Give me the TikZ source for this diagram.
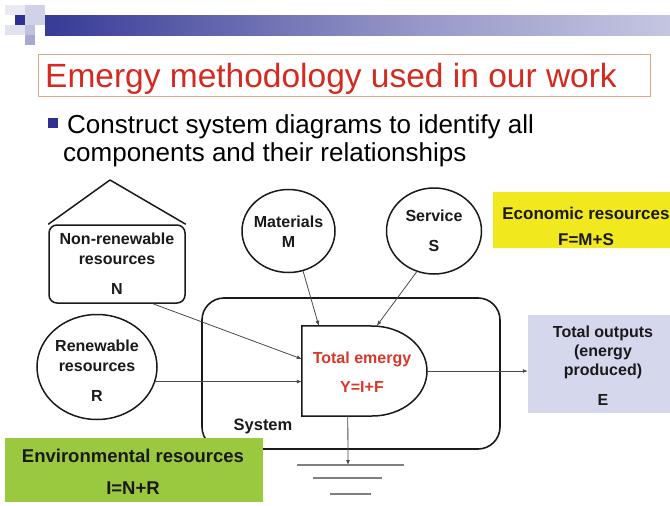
\documentclass[tikz,border=0pt]{standalone}
\usepackage{fontspec}
\setmainfont{Liberation Sans}
\usetikzlibrary{arrows.meta,shapes.geometric,calc}

\definecolor{hdrblue}{HTML}{2E3192}
\definecolor{titlered}{HTML}{D42A20}
\definecolor{titleframe}{HTML}{E0A88A}
\definecolor{flowgray}{HTML}{4A4A4A}
\definecolor{econyellow}{HTML}{F2E81E}
\definecolor{envgreen}{HTML}{9AC83E}
\definecolor{outlavender}{HTML}{D5D7EC}
\definecolor{emred}{HTML}{D9372A}
\definecolor{inkblack}{HTML}{1A1A1A}

\pgfdeclarehorizontalshading{hdrbar}{100bp}{color(0bp)=(hdrblue); color(22bp)=(hdrblue); color(55bp)=(hdrblue!50); color(100bp)=(white)}

\begin{document}
\begin{tikzpicture}[x=1pt,y=-1pt,
  outline/.style={draw=inkblack, line width=1.5pt},
  lbl/.style={font=\bfseries\fontsize{16}{20}\selectfont, text=inkblack, align=center, inner sep=0pt},
  flow/.style={draw=flowgray, line width=0.8pt, -{Latex[length=5pt,width=4pt]}},
  groundline/.style={draw=gray, line width=1.1pt},
  panel/.style={draw=none, inner sep=0pt, align=center, text=inkblack}]
\useasboundingbox (0,0) rectangle (670,506);
\fill[white] (0,0) rectangle (670,506);

% header squares and bar
\fill[hdrblue!10] (5,5) rectangle (25,15);
\fill[hdrblue!22] (25,5) rectangle (45,25);
\fill[hdrblue!14] (5,25) rectangle (25,35);
\fill[hdrblue!30] (25,25) rectangle (35,35);
\fill[hdrblue!42] (25,35) rectangle (35,45);
\fill[hdrblue] (15,15) rectangle (25,25);
\shade[shading=hdrbar] (45,15) rectangle (670,35);

% title
\draw[titleframe, line width=1pt] (38,54) rectangle (650,96);
\node[anchor=base west, inner sep=0pt, text=titlered, font=\fontsize{33.5}{40}\selectfont] (title) at (45,87) {Emergy methodology used in our work};

% bullet
\fill[hdrblue] (48,118) rectangle (58,128);
\node[anchor=base west, inner sep=0pt, font=\fontsize{26}{31}\selectfont] (line1) at (67,133) {Construct system diagrams to identify all};
\node[anchor=base west, inner sep=0pt, font=\fontsize{26}{31}\selectfont] (line2) at (63,161) {components and their relationships};

% system boundary
\node[outline, line width=1.6pt, rounded corners=22pt, minimum width=298pt, minimum height=151pt, inner sep=0pt] (sys) at (351,373.5) {};
\node[lbl, font=\bfseries\fontsize{16.5}{20}\selectfont] (syslbl) at (263,426) {System};

% non-renewable source (house shape)
\node[outline, rounded corners=8pt, minimum width=136pt, minimum height=78pt, lbl] (nr) at (117,264) {Non-renewable\\resources\\[10pt]N};
\draw[outline, line join=round] (nr.north west) -- (110,180) -- (nr.north east);

% renewable source
\node[outline, ellipse, minimum width=120pt, minimum height=105pt, inner sep=0pt] (rn) at (97,367) {};
\node[lbl] (rntext) at (97,371) {Renewable\\resources\\[10pt]R};

% purchased inputs
\node[outline, ellipse, minimum width=93pt, minimum height=83pt, inner sep=0pt] (mat) at (288.5,231) {};
\node[lbl] (mattext) at (288.5,232) {Materials\\M};
\node[outline, ellipse, minimum width=95pt, minimum height=86pt, inner sep=0pt] (svc) at (434,231) {};
\node[lbl] (svctext) at (434,231) {Service\\[10pt]S};

% total emergy block
\node[minimum width=125pt, minimum height=90pt, inner sep=0pt] (te) at (364.5,371) {};
\draw[outline, fill=white] (te.north west) -- (372,326)
  arc[start angle=-90, end angle=90, x radius=55, y radius=45]
  -- (te.south west) -- cycle;
\node[lbl, text=emred] (tetext) at (362,372) {Total emergy\\[9pt]Y=I+F};

% flows
\draw[flow] ($(nr.south)+(36,0)$) -- ($(te.west)+(0,-12)$);
\draw[flow] (rn.-14.6) -- (rn.-14.6 -| te.west);
\draw[flow] (mat.-70) -- ($(te.north west)+(17,0)$);
\draw[flow] (svc.-113) -- ($(te.north west)+(75,0)$);

% outputs
\node[panel, fill=outlavender, minimum width=142pt, minimum height=98pt] (out) at (599,364) {};
\node[lbl, font=\bfseries\fontsize{16}{19}\selectfont] (outtext) at (603,366) {Total outputs\\(energy\\produced)\\[11pt]E};
\draw[flow] (te.east) -- (te.east -| out.west);

% heat sink
\coordinate (gnd) at (348,465);
\draw[flow] ($(te.south west)+(46,0)$) -- (gnd);
\draw[groundline] (297,465) -- (404,465);
\draw[groundline] (313,478) -- (382,478);
\draw[groundline] (330,494) -- (371,494);

% economic resources panel
\node[panel, fill=econyellow, minimum width=177pt, minimum height=56pt] (econ) at (581.5,220) {};
\node[lbl, font=\bfseries\fontsize{17}{21}\selectfont] (econtext) at (586,226) {Economic resources\\[5pt]F=M+S};

% environmental resources panel
\node[panel, fill=envgreen, minimum width=258pt, minimum height=64pt] (env) at (134,470) {};
\node[lbl, font=\bfseries\fontsize{18.5}{22}\selectfont] (envtext) at (133,472) {Environmental resources\\[10pt]I=N+R};
\end{tikzpicture}
\end{document}
